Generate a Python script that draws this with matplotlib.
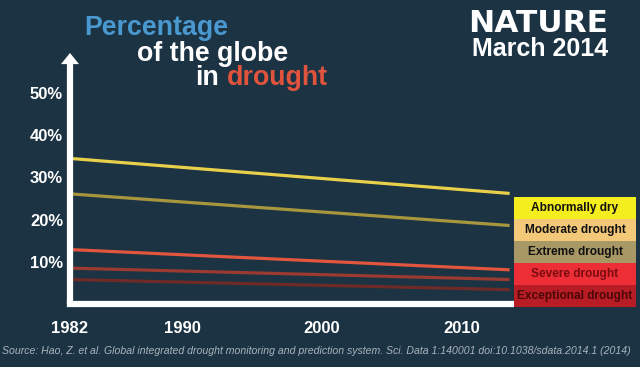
import matplotlib
matplotlib.use("Agg")
import matplotlib.pyplot as plt
from matplotlib.patches import Rectangle

# ---- data ----
years = [1982, 2013.4]
series_names = ["Abnormally dry", "Moderate drought", "Extreme drought", "Severe drought", "Exceptional drought"]
abnormally_dry = [34.5, 26.2]
moderate = [26.1, 18.6]
severe = [12.9, 8.1]
extreme = [8.5, 5.8]
exceptional = [5.8, 3.4]
line_values = [abnormally_dry, moderate, severe, extreme, exceptional]
line_colors = ["#e8d04a", "#a8963e", "#e2553f", "#9a3a30", "#6e2a26"]

legend_colors = ["#f5ee1e", "#f3c878", "#a89866", "#ee2e36", "#b81c24"]
legend_text_colors = ["#111111", "#111111", "#111111", "#7a0c10", "#4a0808"]

xticks = [1982, 1990, 2000, 2010]
yticks = [10, 20, 30, 40, 50]
ytick_labels = ["10%", "20%", "30%", "40%", "50%"]

BG = "#1b3343"
W, H = 640, 367
fig = plt.figure(figsize=(6.4, 3.67), dpi=100)
fig.patch.set_facecolor(BG)

# axes: px 70..511 horizontally, px 304 (0%) .. 53 (top) vertically
left, right, bottom, top = 70, 511, 304, 53
ax = fig.add_axes([left / W, 1 - bottom / H, (right - left) / W, (bottom - top) / H])
ax.set_facecolor("none")
ax.set_xlim(1982, 1982 + (right - left) / 14.0)
ax.set_ylim(0, (bottom - top) / 4.22)
for s in ax.spines.values():
    s.set_visible(False)

for vals, c in zip(line_values, line_colors):
    ax.plot(years, vals, color=c, lw=2.3, solid_capstyle="butt", zorder=2)

# x axis line
ax.plot([1982, ax.get_xlim()[1]], [0, 0], color="white", lw=4.5,
        solid_capstyle="projecting", clip_on=False, zorder=5)
# y axis arrow
ax.annotate("", xy=(0, 1), xycoords="axes fraction", xytext=(0, 0),
            textcoords="axes fraction",
            arrowprops=dict(width=4.5, headwidth=13, headlength=8,
                            facecolor="white", edgecolor="none", shrink=0),
            zorder=6)

tick_font = dict(family=["Liberation Sans", "DejaVu Sans"], weight="bold", size=12)
ax.set_xticks(xticks)
ax.set_xticklabels([str(x) for x in xticks], color="white", **tick_font)
ax.set_yticks(yticks)
ax.set_yticklabels(ytick_labels, color="white", **tick_font)
ax.tick_params(axis="both", length=0)
ax.tick_params(axis="y", pad=5)
ax.tick_params(axis="x", pad=12)

# ---- title ----
tf = ["Liberation Sans", "DejaVu Sans"]
def ftext(x, y, s, **kw):
    fig.text(x / W, 1 - y / H, s, va="baseline", **kw)

ftext(84, 35, "Percentage", color="#4a98d0", family=tf, weight="bold", size=19.3)
ftext(137, 61, "of the globe", color="white", family=tf, weight="bold", size=19.3)
ftext(195, 85, "in", color="white", family=tf, weight="bold", size=19.3)
ftext(227, 85, "drought", color="#e0533c", family=tf, weight="bold", size=19.3)

ftext(608, 32, "NATURE", color="white", family=["DejaVu Sans"], weight="bold",
      size=22.5, ha="right")
ftext(608, 56, "March 2014", color="white", family=tf, weight="bold", size=18, ha="right")

# ---- legend boxes ----
lx0, lx1, ly0, bh = 514, 636, 197, 22
nf = ["Liberation Sans", "DejaVu Sans"]
for i, (name, c, tc) in enumerate(zip(series_names, legend_colors, legend_text_colors)):
    y0 = ly0 + i * bh
    fig.patches.append(Rectangle((lx0 / W, 1 - (y0 + bh) / H), (lx1 - lx0) / W, bh / H,
                                 transform=fig.transFigure, facecolor=c,
                                 edgecolor="none", zorder=3))
    fig.text((lx0 + lx1) / 2 / W, 1 - (y0 + bh / 2) / H, name, ha="center", va="center",
             color=tc, family=nf, weight="bold", size=8.6, zorder=4)

# ---- source ----
fig.text(316 / W, 1 - 351 / H,
         "Source: Hao, Z. et al. Global integrated drought monitoring and prediction system. "
         "Sci. Data 1:140001 doi:10.1038/sdata.2014.1 (2014)",
         ha="center", va="center", color="#aab4bd", family=nf, style="italic", size=7.6)

fig.savefig("out.png", dpi=100, facecolor=BG)
